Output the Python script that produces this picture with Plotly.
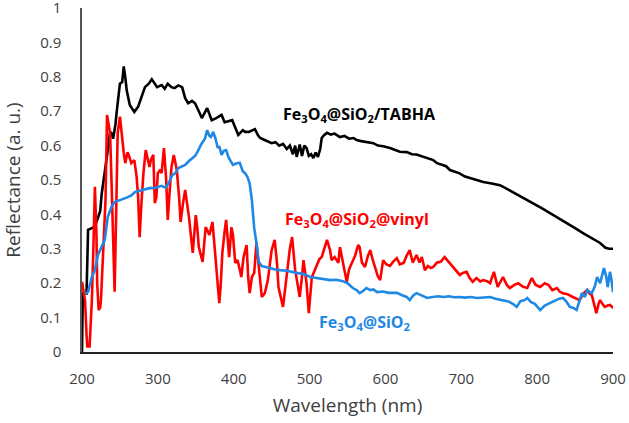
import plotly.graph_objects as go

# Fe3O4@SiO2/TABHA (black)
wl_tabha = [200, 201, 206, 208, 213, 217, 221, 224, 226, 230, 234, 237, 239, 241, 244, 246, 250, 253, 255,
            257, 259, 263, 269, 274, 278, 283, 288, 292, 299, 305, 309, 313, 318, 322, 327, 332, 336, 340,
            345, 349, 354, 358, 365, 371, 377, 384, 388, 393, 398, 406, 412, 415, 420, 425, 428, 432, 435,
            440, 445, 450, 455, 460, 465, 470, 474, 478, 481, 483, 487, 490, 493, 496, 499, 502, 505, 508,
            511, 514, 516, 519, 523, 528, 533, 540, 546, 552, 558, 562, 568, 575, 584, 590, 597, 606, 612,
            619, 628, 635, 641, 650, 657, 663, 668, 675, 680, 685, 690, 697, 705, 712, 720, 729, 740, 751,
            762, 773, 784, 795, 806, 817, 828, 839, 850, 861, 872, 883, 890, 895, 900]
r_tabha = [0.0, 0.17, 0.17, 0.355, 0.36, 0.365, 0.39, 0.41, 0.46, 0.52, 0.587, 0.64, 0.636, 0.62, 0.66, 0.703,
           0.78, 0.785, 0.83, 0.80, 0.76, 0.718, 0.698, 0.713, 0.74, 0.77, 0.78, 0.793, 0.77, 0.776, 0.765,
           0.78, 0.77, 0.767, 0.775, 0.77, 0.738, 0.723, 0.73, 0.723, 0.70, 0.68, 0.709, 0.674, 0.68, 0.689,
           0.668, 0.672, 0.674, 0.631, 0.645, 0.64, 0.64, 0.645, 0.648, 0.63, 0.622, 0.617, 0.612, 0.607,
           0.61, 0.60, 0.605, 0.59, 0.60, 0.575, 0.60, 0.567, 0.603, 0.57, 0.60, 0.593, 0.57, 0.575, 0.564,
           0.58, 0.567, 0.59, 0.622, 0.63, 0.637, 0.632, 0.635, 0.625, 0.628, 0.62, 0.622, 0.616, 0.613,
           0.61, 0.607, 0.60, 0.598, 0.593, 0.588, 0.582, 0.581, 0.575, 0.574, 0.567, 0.562, 0.558, 0.549,
           0.545, 0.54, 0.529, 0.526, 0.52, 0.51, 0.505, 0.50, 0.494, 0.49, 0.485, 0.472, 0.459, 0.446,
           0.433, 0.418, 0.404, 0.39, 0.375, 0.36, 0.345, 0.331, 0.317, 0.303, 0.30, 0.30]

# Fe3O4@SiO2@vinyl (red)
wl_vinyl = [200, 202, 204, 206, 207, 210, 211, 213, 215, 217, 219, 220, 222, 224, 225, 227, 229, 231, 233,
            235, 237, 239, 241, 243, 245, 247, 250, 253, 255, 257, 260, 262, 265, 269, 272, 274, 276, 278,
            281, 284, 287, 289, 291, 294, 296, 298, 300, 303, 305, 308, 311, 313, 316, 318, 321, 325, 328,
            330, 333, 336, 338, 341, 346, 348, 350, 352, 354, 359, 361, 363, 366, 368, 370, 372, 375, 377,
            381, 383, 385, 388, 390, 392, 394, 397, 399, 402, 405, 408, 410, 413, 417, 419, 421, 424, 427,
            430, 433, 437, 441, 445, 450, 454, 457, 459, 465, 470, 474, 477, 481, 484, 487, 490, 492, 496,
            499, 503, 507, 510, 513, 516, 520, 523, 527, 529, 533, 538, 540, 545, 549, 552, 556, 560, 564,
            566, 569, 573, 577, 580, 583, 586, 590, 593, 597, 601, 606, 610, 615, 619, 624, 628, 632, 636,
            641, 645, 648, 652, 656, 660, 663, 668, 673, 678, 684, 689, 693, 698, 702, 707, 711, 715, 720,
            725, 729, 734, 738, 743, 748, 752, 755, 760, 764, 770, 775, 781, 787, 793, 798, 804, 810, 815,
            820, 826, 830, 834, 840, 847, 852, 856, 861, 866, 869, 872, 875, 878, 881, 883, 886, 889, 893,
            896, 900]
r_vinyl = [0.204, 0.18, 0.15, 0.05, 0.016, 0.016, 0.05, 0.15, 0.30, 0.48, 0.345, 0.20, 0.122, 0.13, 0.15,
           0.248, 0.35, 0.442, 0.689, 0.66, 0.636, 0.49, 0.297, 0.175, 0.40, 0.636, 0.684, 0.616, 0.58,
           0.549, 0.581, 0.57, 0.549, 0.558, 0.509, 0.45, 0.334, 0.42, 0.52, 0.587, 0.56, 0.538, 0.56,
           0.573, 0.433, 0.45, 0.52, 0.53, 0.52, 0.593, 0.50, 0.384, 0.48, 0.538, 0.573, 0.529, 0.45,
           0.378, 0.43, 0.471, 0.44, 0.392, 0.288, 0.34, 0.398, 0.36, 0.305, 0.262, 0.32, 0.363, 0.35,
           0.34, 0.36, 0.378, 0.30, 0.248, 0.142, 0.20, 0.288, 0.35, 0.384, 0.33, 0.276, 0.363, 0.34,
           0.259, 0.267, 0.24, 0.218, 0.276, 0.311, 0.22, 0.171, 0.218, 0.23, 0.317, 0.25, 0.16, 0.171,
           0.209, 0.296, 0.326, 0.26, 0.189, 0.131, 0.218, 0.30, 0.334, 0.238, 0.20, 0.16, 0.22, 0.267,
           0.20, 0.113, 0.218, 0.24, 0.259, 0.27, 0.276, 0.305, 0.326, 0.296, 0.267, 0.276, 0.259, 0.305,
           0.25, 0.204, 0.24, 0.259, 0.28, 0.311, 0.305, 0.26, 0.247, 0.28, 0.296, 0.27, 0.247, 0.22,
           0.209, 0.267, 0.255, 0.25, 0.262, 0.273, 0.255, 0.259, 0.28, 0.296, 0.26, 0.282, 0.26, 0.276,
           0.238, 0.25, 0.244, 0.247, 0.26, 0.262, 0.276, 0.26, 0.247, 0.235, 0.224, 0.23, 0.233, 0.215,
           0.204, 0.215, 0.205, 0.209, 0.206, 0.20, 0.233, 0.189, 0.205, 0.218, 0.195, 0.186, 0.195, 0.20,
           0.19, 0.186, 0.215, 0.195, 0.189, 0.20, 0.195, 0.18, 0.186, 0.175, 0.171, 0.168, 0.16, 0.155,
           0.151, 0.17, 0.18, 0.17, 0.166, 0.14, 0.113, 0.14, 0.151, 0.14, 0.131, 0.135, 0.137, 0.128]

# Fe3O4@SiO2 (blue)
wl_sio2 = [204, 208, 213, 217, 221, 226, 230, 234, 239, 243, 248, 253, 258, 261, 265, 270, 275, 279, 283,
           290, 295, 300, 305, 310, 314, 319, 323, 327, 332, 336, 341, 345, 349, 352, 355, 358, 362, 365,
           368, 370, 373, 376, 379, 381, 384, 387, 390, 393, 396, 399, 403, 408, 412, 415, 418, 421, 424,
           427, 430, 433, 437, 445, 455, 461, 470, 483, 493, 501, 510, 520, 527, 535, 544, 550, 557, 562,
           566, 571, 575, 580, 584, 589, 597, 604, 610, 615, 622, 628, 632, 637, 641, 646, 650, 655, 662,
           670, 676, 684, 690, 698, 705, 712, 721, 730, 738, 745, 755, 762, 768, 773, 778, 783, 787, 792,
           797, 801, 804, 810, 817, 823, 829, 834, 839, 843, 848, 852, 856, 859, 863, 866, 869, 872, 876,
           879, 883, 886, 888, 891, 893, 896, 898, 900]
r_sio2 = [0.17, 0.175, 0.218, 0.238, 0.282, 0.305, 0.326, 0.393, 0.422, 0.436, 0.44, 0.442, 0.448, 0.451,
          0.455, 0.465, 0.468, 0.47, 0.473, 0.477, 0.476, 0.48, 0.483, 0.478, 0.49, 0.514, 0.52, 0.535, 0.54,
          0.544, 0.555, 0.564, 0.57, 0.581, 0.596, 0.607, 0.62, 0.645, 0.628, 0.625, 0.64, 0.62, 0.593,
          0.598, 0.573, 0.585, 0.587, 0.567, 0.555, 0.544, 0.548, 0.55, 0.525, 0.52, 0.509, 0.49, 0.44,
          0.36, 0.317, 0.262, 0.25, 0.245, 0.24, 0.238, 0.236, 0.23, 0.226, 0.218, 0.215, 0.212, 0.209,
          0.21, 0.206, 0.20, 0.186, 0.18, 0.171, 0.178, 0.186, 0.18, 0.182, 0.174, 0.176, 0.172, 0.171,
          0.172, 0.165, 0.16, 0.151, 0.165, 0.171, 0.166, 0.16, 0.157, 0.16, 0.162, 0.16, 0.162, 0.159,
          0.16, 0.158, 0.16, 0.157, 0.158, 0.16, 0.155, 0.151, 0.147, 0.14, 0.131, 0.148, 0.15, 0.157,
          0.145, 0.14, 0.13, 0.122, 0.135, 0.142, 0.15, 0.155, 0.157, 0.145, 0.131, 0.128, 0.122, 0.15,
          0.171, 0.16, 0.18, 0.175, 0.171, 0.19, 0.218, 0.20, 0.23, 0.244, 0.22, 0.189, 0.233, 0.21, 0.174]

x_ticks = [200, 300, 400, 500, 600, 700, 800, 900]
y_ticks = [0, 0.1, 0.2, 0.3, 0.4, 0.5, 0.6, 0.7, 0.8, 0.9, 1]

BLACK = "#000000"
RED = "#ff0000"
BLUE = "#1e88e5"
FONT = "Open Sans"

fig = go.Figure()
fig.add_trace(go.Scatter(x=wl_tabha, y=r_tabha, mode="lines", line=dict(color=BLACK, width=2.6)))
fig.add_trace(go.Scatter(x=wl_vinyl, y=r_vinyl, mode="lines", line=dict(color=RED, width=2.6)))
fig.add_trace(go.Scatter(x=wl_sio2, y=r_sio2, mode="lines", line=dict(color=BLUE, width=2.6)))

# curve labels
labels = [
    ("Fe<sub>3</sub>O<sub>4</sub>@SiO<sub>2</sub>/TABHA", 566, 0.689, BLACK),
    ("Fe<sub>3</sub>O<sub>4</sub>@SiO<sub>2</sub>@vinyl", 562, 0.384, RED),
    ("Fe<sub>3</sub>O<sub>4</sub>@SiO<sub>2</sub>", 573, 0.087, BLUE),
]
for text, x, y, color in labels:
    fig.add_annotation(x=x, y=y, text="<b>" + text + "</b>", showarrow=False,
                       font=dict(family=FONT, size=16, color=color))

fig.update_layout(
    width=629, height=423,
    margin=dict(l=82, r=16, t=8, b=71),
    paper_bgcolor="white", plot_bgcolor="white",
    showlegend=False,
    font=dict(family=FONT, color="#404040"),
)
fig.update_xaxes(
    range=[200, 900], tickvals=x_ticks, showgrid=False, zeroline=False,
    showline=True, linecolor="#222222", linewidth=1.5,
    ticks="outside", ticklen=12, tickcolor="white",
    tickfont=dict(size=15, color="#404040"), ticklabeloverflow="allow",
    automargin=False,
    title=dict(text="Wavelength (nm)", font=dict(size=19, color="#404040"), standoff=12),
)
fig.update_yaxes(
    range=[0, 1], tickvals=y_ticks, showgrid=False, zeroline=False,
    showline=True, linecolor="#555555", linewidth=1.5,
    ticks="outside", ticklen=16, tickcolor="white",
    tickfont=dict(size=15, color="#404040"), ticklabeloverflow="allow",
    automargin=False,
    title=dict(text="Reflectance (a. u.)", font=dict(size=19, color="#404040"), standoff=22),
)

# page body has a default 8px margin; drop it so the figure fills the window
fig.write_html("out.html", config={"displayModeBar": False},
               post_script="document.body.style.margin='0';")
